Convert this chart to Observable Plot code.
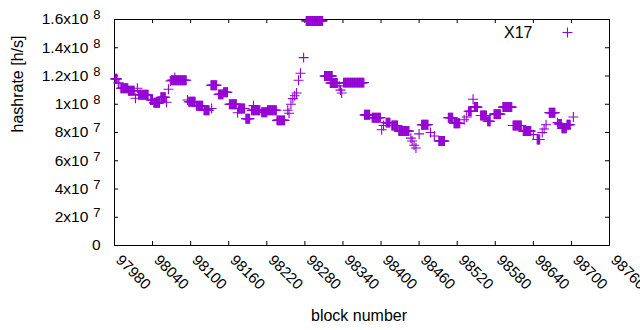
<!DOCTYPE html>
<html><head><meta charset="utf-8">
<script src="https://cdn.jsdelivr.net/npm/d3@7"></script>
<script src="https://cdn.jsdelivr.net/npm/@observablehq/plot@0.6"></script>
<style>
html,body{margin:0;padding:0;background:#fff}
#chart svg{display:block}
</style>
</head><body><div id="chart"></div>
<script>
// Runs of blocks sharing one hashrate value (units: 1e7 h/s); single points have start == end
const runStart = [97981,97986,97990,98002,98013,98016,98018,98037,98042,98053,98062,98065,98068,98070,98075,98095,98097,98109,98121,98133,98132,98144,98152,98161,98174,98175,98187,98196,98199,98212,98221,98236,
  98253,98255,98258,98261,98264,98267,98270,98273,98278,98282,98311,98320,98334,98336,98338,98341,98374,98386,98401,98404,98408,98417,98428,
  98447,98449,98452,98455,98460,98464,98478,98484,98491,98506,98515,98531,98535,98538,98545,98547,98557,98568,98578,98592,98608,98624,98640,98646,
  98654,98657,98660,98665,98678,98680,98685,98693,98703];
const runEnd = [97984,97987,98001,98011,98013,98016,98033,98040,98051,98060,98062,98065,98068,98093,98075,98095,98107,98119,98129,98133,98141,98151,98158,98172,98174,98185,98193,98209,98199,98220,98235,98248,
  98253,98255,98258,98261,98264,98267,98270,98273,98278,98308,98323,98331,98334,98336,98338,98373,98382,98399,98401,98404,98414,98426,98444,
  98447,98449,98452,98455,98460,98474,98478,98484,98500,98513,98524,98531,98535,98542,98545,98552,98566,98572,98588,98606,98621,98636,98640,98650,
  98654,98657,98660,98674,98678,98684,98692,98698,98703];
const runValue = [11.8,11.5,11.13,10.96,10.43,11.13,10.67,10.3,10.1,10.5,10.14,11.06,11.65,11.7,11.9,10.3,10.18,9.9,9.57,9.7,11.35,10.7,10.85,10.0,9.4,9.7,8.97,9.57,9.9,9.43,9.57,8.86,
  9.57,9.36,10.0,10.4,10.6,10.8,11.7,12.2,13.3,15.9,12.0,11.5,11.3,11.0,10.8,11.53,9.25,9.05,8.2,8.5,8.7,8.5,8.1,
  7.6,7.4,7.1,6.9,7.9,8.55,8.0,7.75,7.4,9.05,8.65,8.9,9.1,9.5,10.35,9.8,9.2,8.8,9.3,9.8,8.5,8.1,7.85,7.5,
  8.0,8.25,8.55,9.4,8.7,8.6,8.3,8.55,9.1];
const seriesName = "X17";
const xTicks = [97980,98040,98100,98160,98220,98280,98340,98400,98460,98520,98580,98640,98700,98760];
const yTicks = [0,2e7,4e7,6e7,8e7,1e8,1.2e8,1.4e8,1.6e8];
const yTickLabels = ["0","2x10^7","4x10^7","6x10^7","8x10^7","1x10^8","1.2x10^8","1.4x10^8","1.6x10^8"];
const xLabel = "block number";
const yLabel = "hashrate [h/s]";

const points = [];
runStart.forEach((s, i) => {
  for (let b = s; b <= runEnd[i]; b++) points.push({block: b, hashrate: runValue[i] * 1e7});
});

const W = 640, H = 330, mL = 114, mR = 31, mT = 19, mB = 85;
const innerW = W - mL - mR, innerH = H - mT - mB;
const color = "#9400d3";

const chart = Plot.plot({
  width: W, height: H,
  marginLeft: mL, marginRight: mR, marginTop: mT, marginBottom: mB,
  style: {fontFamily: "'Liberation Sans', Arial, sans-serif", fontSize: "16px", color: "#000", background: "#fff", overflow: "hidden"},
  x: {domain: [97980, 98760]},
  y: {domain: [0, 1.6e8]},
  marks: [
    Plot.frame({stroke: "#000", strokeWidth: 1}),
    Plot.tickX(xTicks, {x: d => d, insetTop: innerH - 4, stroke: "#000"}),
    Plot.tickX(xTicks, {x: d => d, insetBottom: innerH - 4, stroke: "#000"}),
    Plot.tickY(yTicks, {y: d => d, insetRight: innerW - 4, stroke: "#000"}),
    Plot.tickY(yTicks, {y: d => d, insetLeft: innerW - 4, stroke: "#000"}),
    Plot.axisX({ticks: xTicks, tickSize: 0, tickPadding: 12, tickRotate: 45, dx: 4, dy: 0, fontSize: 15, tickFormat: d => String(d), label: null, fill: "#000"}),
    Plot.axisY({ticks: yTicks, tickSize: 0, tickPadding: 14, fontSize: 15.5, tickFormat: d => yTickLabels[yTicks.indexOf(d)], label: null, fill: "#000"}),
    Plot.dot(points, {x: "block", y: "hashrate", symbol: "plus", r: 3.3, stroke: color, strokeWidth: 1.1}),
    Plot.text([seriesName], {text: d => d, frameAnchor: "top-right", dx: -77, dy: 13, textAnchor: "end", lineAnchor: "middle", fill: "#000"}),
    Plot.dot([seriesName], {frameAnchor: "top-right", dx: -42, dy: 13, symbol: "plus", r: 3.3, stroke: color, strokeWidth: 1.1}),
    Plot.text([xLabel], {text: d => d, frameAnchor: "bottom", dx: -3, dy: 70, lineAnchor: "middle", fill: "#000"}),
    Plot.text([yLabel], {text: d => d, frameAnchor: "left", dx: -97, rotate: -90, lineAnchor: "middle", fill: "#000"})
  ]
});
document.getElementById("chart").appendChild(chart);

// superscript exponents in y tick labels
chart.querySelectorAll('g[aria-label="y-axis tick label"] text').forEach(t => {
  const s = t.textContent;
  if (s.includes("^")) {
    const [base, exp] = s.split("^");
    t.textContent = base;
    const ts = document.createElementNS("http://www.w3.org/2000/svg", "tspan");
    ts.setAttribute("dx", "5");
    ts.setAttribute("dy", "-5");
    ts.setAttribute("font-size", "13");
    ts.textContent = exp;
    t.appendChild(ts);
  }
});
</script>
</body></html>
